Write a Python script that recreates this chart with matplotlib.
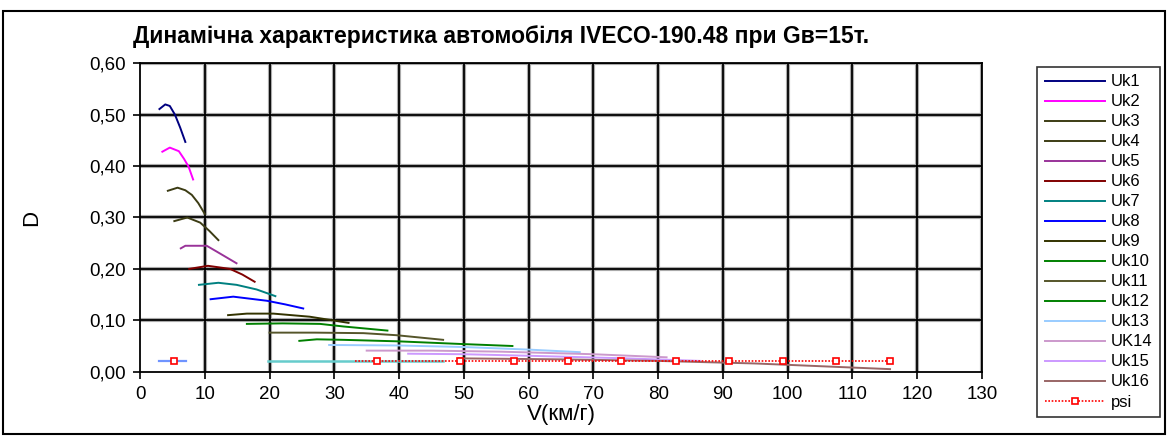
import matplotlib
matplotlib.use("Agg")
import matplotlib.pyplot as plt
from matplotlib.patches import Rectangle
from matplotlib.ticker import FuncFormatter, MultipleLocator

plt.rcParams["font.family"] = ["Liberation Sans", "DejaVu Sans"]

# --- data ------------------------------------------------------------------
LABELS = ["Uk1", "Uk2", "Uk3", "Uk4", "Uk5", "Uk6", "Uk7", "Uk8",
          "Uk9", "Uk10", "Uk11", "Uk12", "Uk13", "UK14", "Uk15", "Uk16"]

V1 = [3.0, 3.9, 4.6, 5.4, 6.2, 7.0]
D1 = [0.511, 0.520, 0.517, 0.500, 0.475, 0.447]
V2 = [3.45, 4.6, 6.0, 6.8, 7.5, 8.2]
D2 = [0.428, 0.436, 0.429, 0.414, 0.399, 0.374]
V3 = [4.3, 5.8, 7.0, 8.0, 9.0, 10.0]
D3 = [0.352, 0.358, 0.353, 0.344, 0.328, 0.307]
V4 = [5.3, 7.3, 9.3, 10.7, 12.1]
D4 = [0.293, 0.300, 0.290, 0.274, 0.256]
V5 = [6.3, 7.0, 10.3, 11.8, 14.9]
D5 = [0.240, 0.245, 0.245, 0.234, 0.211]
V6 = [7.6, 10.5, 13.9, 15.8, 17.7]
D6 = [0.200, 0.206, 0.200, 0.189, 0.175]
V7 = [9.1, 12.1, 14.9, 18.0, 20.9]
D7 = [0.169, 0.173, 0.169, 0.160, 0.147]
V8 = [10.9, 14.4, 19.6, 22.4, 25.2]
D8 = [0.141, 0.146, 0.138, 0.131, 0.123]
V9 = [13.6, 16.5, 20.6, 26.2, 32.2]
D9 = [0.110, 0.113, 0.113, 0.107, 0.095]
V10 = [16.5, 22.0, 27.8, 31.4, 38.2]
D10 = [0.093, 0.094, 0.093, 0.088, 0.080]
V11 = [20.0, 27.0, 34.5, 39.6, 46.8]
D11 = [0.076, 0.076, 0.075, 0.071, 0.062]
V12 = [24.6, 27.3, 31.4, 40.0, 49.4, 57.5]
D12 = [0.060, 0.063, 0.062, 0.059, 0.054, 0.050]
V13 = [29.2, 40.0, 50.0, 60.0, 67.9]
D13 = [0.052, 0.051, 0.048, 0.043, 0.038]
V14 = [35.0, 45.0, 55.6, 70.0, 81.3]
D14 = [0.041, 0.041, 0.039, 0.034, 0.028]
V15 = [41.4, 50.0, 60.0, 75.0, 86.5]
D15 = [0.035, 0.034, 0.031, 0.026, 0.021]
V16 = [49.2, 65.0, 80.0, 95.0, 115.8]
D16 = [0.026, 0.024, 0.021, 0.016, 0.005]

SERIES_V = [V1, V2, V3, V4, V5, V6, V7, V8, V9, V10, V11, V12, V13, V14, V15, V16]
SERIES_D = [D1, D2, D3, D4, D5, D6, D7, D8, D9, D10, D11, D12, D13, D14, D15, D16]

# psi (road resistance) and the two unlabeled flat segments at the same level
PSI_LEVEL = 0.02
PSI_V = [33.2, 36.6, 49.4, 57.8, 66.1, 74.3, 82.7, 90.9, 99.2, 107.4, 115.8]
PSI_V_FIRST = [5.2]
FLAT1_V = [2.9, 7.05]
FLAT2_V = [19.8, 46.8]

# --- style -------------------------------------------------------------------
COLORS = ["#000080", "#ff00ff", "#3c3c14", "#3c3c14", "#993399", "#800000",
          "#008080", "#0000ff", "#333300", "#008000", "#55552a", "#008000",
          "#99ccff", "#cc99cc", "#cc99ff", "#996666"]

W, H = 1168, 436
fig = plt.figure(figsize=(W / 100, H / 100), dpi=100)
ax = fig.add_axes([140 / W, 1 - 371.7 / H, 842 / W, 308.4 / H])

# grid: black with a gray halo, like the Excel export
for x in range(10, 131, 10):
    ax.axvline(x, color="#aaaaaa", lw=3.0, zorder=0)
    ax.axvline(x, color="black", lw=1.3, zorder=0.5)
for k in range(1, 7):
    y = k * 0.1
    ax.axhline(y, color="#aaaaaa", lw=3.0, zorder=0)
    ax.axhline(y, color="black", lw=1.3, zorder=0.5)

for v, d, c, lab in zip(SERIES_V, SERIES_D, COLORS, LABELS):
    ax.plot(v, d, color=c, lw=1.4, label=lab, zorder=2)

ax.plot(FLAT1_V, [PSI_LEVEL] * 2, color="#6f94ff", lw=1.6, zorder=2)
ax.plot(FLAT2_V, [PSI_LEVEL] * 2, color="#66cccc", lw=1.8, zorder=2)
ax.plot(PSI_V, [PSI_LEVEL] * len(PSI_V), color="red", lw=1.2, ls=(0, (1, 1)),
        marker="s", markersize=4.5, markerfacecolor="white",
        markeredgecolor="red", markeredgewidth=1.2,
        markevery=list(range(1, len(PSI_V))), label="psi", zorder=3)
ax.plot(PSI_V_FIRST, [PSI_LEVEL], ls="none", marker="s", markersize=4.5,
        markerfacecolor="white", markeredgecolor="red", markeredgewidth=1.2,
        zorder=3)

ax.set_xlim(0, 130)
ax.set_ylim(0, 0.6)
ax.xaxis.set_major_locator(MultipleLocator(10))
ax.yaxis.set_major_locator(MultipleLocator(0.1))
ax.yaxis.set_major_formatter(FuncFormatter(lambda y, _: f"{y:.2f}".replace(".", ",")))
ax.tick_params(direction="out", length=5, width=1.2, labelsize=13.5, pad=5,
               colors="black")
for s in ax.spines.values():
    s.set_color("black")
    s.set_linewidth(1.3)

ax.set_xlabel("V(км/г)", fontsize=16, labelpad=1)
ax.set_ylabel("D", fontsize=16, labelpad=34)

fig.text(501 / W, 1 - 37 / H, "Динамічна характеристика автомобіля IVECO-190.48 при Gв=15т.",
         ha="center", va="center", fontsize=16.5, fontweight="bold")

leg = fig.legend(loc="upper left", bbox_to_anchor=(1037 / W, 1 - 67 / H),
                 fontsize=12, frameon=True, fancybox=False, edgecolor="black",
                 handlelength=3.6, handletextpad=0.4, labelspacing=0.3,
                 borderpad=0.45, borderaxespad=0)
leg.get_frame().set_linewidth(1.2)

# outer chart border
fig.patches.append(Rectangle((3 / W, 2 / H), 1162 / W, 423 / H, transform=fig.transFigure,
                             fill=False, edgecolor="black", lw=1.5))

fig.savefig("out.png", dpi=100)
